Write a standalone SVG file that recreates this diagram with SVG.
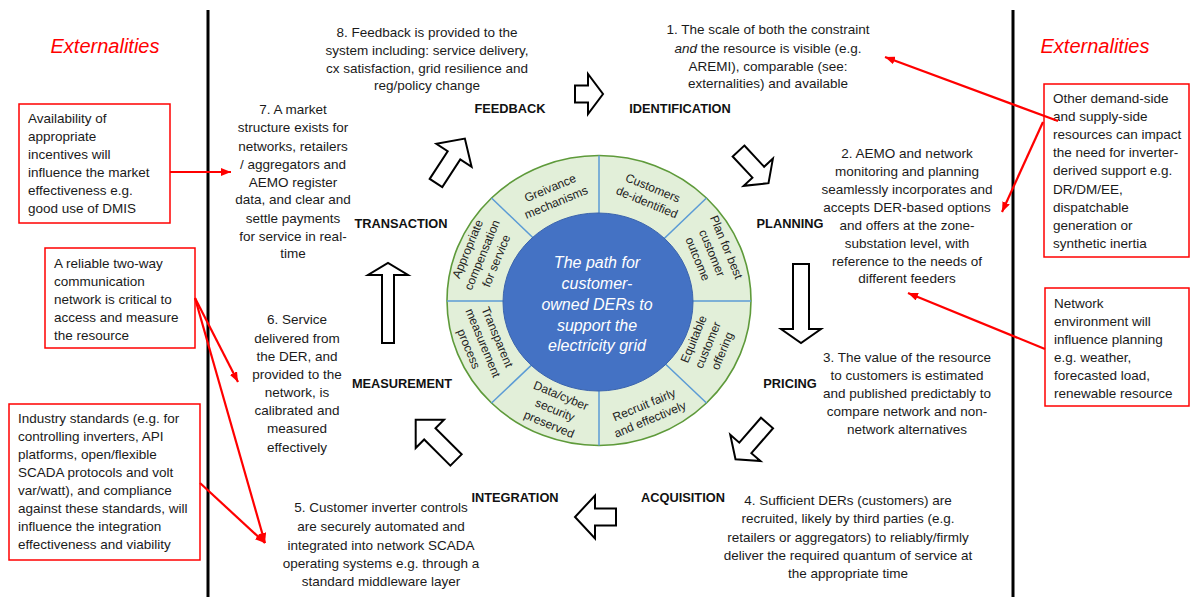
<svg xmlns="http://www.w3.org/2000/svg" width="1190" height="597" viewBox="0 0 1190 597">
<defs>
<style>
.t{font-family:"Liberation Sans",Arial,sans-serif;font-size:13.5px;fill:#1a1a1a}
.c{text-anchor:middle}
.lbl{font-family:"Liberation Sans",Arial,sans-serif;font-size:12.8px;font-weight:bold;fill:#111;text-anchor:middle}
.ext{font-family:"Liberation Sans",Arial,sans-serif;font-size:20px;font-style:italic;fill:#FF0000;text-anchor:middle}
.box{fill:#fff;stroke:#FF0000;stroke-width:1.5}
.red{stroke:#FF0000;stroke-width:2.2;fill:none;marker-end:url(#rh)}
.blk{fill:#fff;stroke:#000;stroke-width:2;stroke-linejoin:miter}
.seg{font-family:"Liberation Sans",Arial,sans-serif;font-size:12px;fill:#222;text-anchor:middle}
.div{stroke:#5B9BD5;stroke-width:1.5}
.core{font-family:"Liberation Sans",Arial,sans-serif;font-size:16px;font-style:italic;fill:#fff;text-anchor:middle}
</style>
<marker id="rh" viewBox="0 0 10 8" refX="10" refY="4" markerWidth="10" markerHeight="8" markerUnits="userSpaceOnUse" orient="auto">
<path d="M0,0 L10,4 L0,8 z" fill="#FF0000"/>
</marker>
</defs>
<rect width="1190" height="597" fill="#fff"/>

<g id="dividers">
<line x1="208" y1="10" x2="208" y2="597" stroke="#000" stroke-width="3"/>
<line x1="1013" y1="10" x2="1013" y2="597" stroke="#000" stroke-width="3"/>
</g>

<g id="externalities-left"><text class="ext" x="105" y="53">Externalities</text></g>
<g id="externalities-right"><text class="ext" x="1095" y="53">Externalities</text></g>

<g id="box-incentives">
<rect class="box" x="19" y="104" width="151" height="119"/>
<text class="t" x="28" y="123">Availability of</text>
<text class="t" x="28" y="141">appropriate</text>
<text class="t" x="28" y="159">incentives will</text>
<text class="t" x="28" y="177">influence the market</text>
<text class="t" x="28" y="195">effectiveness e.g.</text>
<text class="t" x="28" y="213">good use of DMIS</text>
</g>

<g id="box-communication">
<rect class="box" x="45" y="248" width="150" height="100"/>
<text class="t" x="54" y="268">A reliable two-way</text>
<text class="t" x="54" y="286">communication</text>
<text class="t" x="54" y="304">network is critical to</text>
<text class="t" x="54" y="322">access and measure</text>
<text class="t" x="54" y="340">the resource</text>
</g>

<g id="box-standards">
<rect class="box" x="9" y="404" width="191" height="156"/>
<text class="t" x="18" y="423">Industry standards (e.g. for</text>
<text class="t" x="18" y="441">controlling inverters, API</text>
<text class="t" x="18" y="459">platforms, open/flexible</text>
<text class="t" x="18" y="477">SCADA protocols and volt</text>
<text class="t" x="18" y="495">var/watt), and compliance</text>
<text class="t" x="18" y="513">against these standards, will</text>
<text class="t" x="18" y="531">influence the integration</text>
<text class="t" x="18" y="549">effectiveness and viability</text>
</g>

<g id="box-resources">
<rect class="box" x="1044" y="84" width="145" height="173"/>
<text class="t" x="1053" y="103">Other demand-side</text>
<text class="t" x="1053" y="121">and supply-side</text>
<text class="t" x="1053" y="139">resources can impact</text>
<text class="t" x="1053" y="157">the need for inverter-</text>
<text class="t" x="1053" y="175">derived support e.g.</text>
<text class="t" x="1053" y="194">DR/DM/EE,</text>
<text class="t" x="1053" y="212">dispatchable</text>
<text class="t" x="1053" y="230">generation or</text>
<text class="t" x="1053" y="248">synthetic inertia</text>
</g>

<g id="box-network-env">
<rect class="box" x="1045" y="288" width="144" height="118"/>
<text class="t" x="1054" y="308">Network</text>
<text class="t" x="1054" y="326">environment will</text>
<text class="t" x="1054" y="344">influence planning</text>
<text class="t" x="1054" y="362">e.g. weather,</text>
<text class="t" x="1054" y="380">forecasted load,</text>
<text class="t" x="1054" y="398">renewable resource</text>
</g>

<g id="wheel">
<ellipse cx="599" cy="300.5" rx="152" ry="145" fill="#E2EFD9" stroke="#5E9A3A" stroke-width="1.6"/>
<line class="div" x1="599" y1="155.5" x2="599" y2="300"/>
<line class="div" x1="599" y1="445.5" x2="599" y2="300"/>
<line class="div" x1="447" y1="301" x2="599" y2="301"/>
<line class="div" x1="751" y1="301" x2="599" y2="301"/>
<line class="div" x1="491.5" y1="198" x2="599" y2="301"/>
<line class="div" x1="706.5" y1="198" x2="599" y2="301"/>
<line class="div" x1="491.5" y1="403" x2="599" y2="301"/>
<line class="div" x1="706.5" y1="403" x2="599" y2="301"/>
<ellipse cx="598" cy="302" rx="95" ry="89" fill="#4472C4" stroke="#3B64AD" stroke-width="1"/>
<text class="core" x="597" y="268">The path for</text>
<text class="core" x="597" y="289">customer-</text>
<text class="core" x="597" y="310">owned DERs to</text>
<text class="core" x="597" y="331">support the</text>
<text class="core" x="597" y="351">electricity grid</text>
<g transform="translate(553,195) rotate(-22.5)"><text class="seg"><tspan x="0" y="-3.5">Greivance</tspan><tspan x="0" y="12">mechanisms</tspan></text></g>
<g transform="translate(650,195) rotate(22.5)"><text class="seg"><tspan x="0" y="-3.5">Customers</tspan><tspan x="0" y="12">de-identified</tspan></text></g>
<g transform="translate(712,253) rotate(67.5)"><text class="seg"><tspan x="0" y="-11.5">Plan for best</tspan><tspan x="0" y="4">customer</tspan><tspan x="0" y="19.5">outcome</tspan></text></g>
<g transform="translate(708,345) rotate(-67.5)"><text class="seg"><tspan x="0" y="-11.5">Equitable</tspan><tspan x="0" y="4">customer</tspan><tspan x="0" y="19.5">offering</tspan></text></g>
<g transform="translate(647,412) rotate(-22.5)"><text class="seg"><tspan x="0" y="-3.5">Recruit fairly</tspan><tspan x="0" y="12">and effectively</tspan></text></g>
<g transform="translate(555,410) rotate(22.5)"><text class="seg"><tspan x="0" y="-11.5">Data/cyber</tspan><tspan x="0" y="4">security</tspan><tspan x="0" y="19.5">preserved</tspan></text></g>
<g transform="translate(483,343) rotate(67.5)"><text class="seg"><tspan x="0" y="-11.5">Transparent</tspan><tspan x="0" y="4">measurement</tspan><tspan x="0" y="19.5">process</tspan></text></g>
<g transform="translate(482,255) rotate(-67.5)"><text class="seg"><tspan x="0" y="-11.5">Appropriate</tspan><tspan x="0" y="4">compensation</tspan><tspan x="0" y="19.5">for service</tspan></text></g>
</g>

<g id="step-1-identification">
<text class="t c" x="768" y="34">1. The scale of both the constraint</text>
<text class="t c" x="768" y="52.5"><tspan font-style="italic">and</tspan> the resource is visible (e.g.</text>
<text class="t c" x="768" y="70.5">AREMI), comparable (see:</text>
<text class="t c" x="768" y="88">externalities) and available</text>
<text class="lbl" x="680" y="113">IDENTIFICATION</text>
</g>

<g id="step-2-planning">
<text class="t c" x="907" y="158">2. AEMO and network</text>
<text class="t c" x="907" y="176">monitoring and planning</text>
<text class="t c" x="907" y="193.5">seamlessly incorporates and</text>
<text class="t c" x="907" y="211.5">accepts DER-based options</text>
<text class="t c" x="907" y="229.5">and offers at the zone-</text>
<text class="t c" x="907" y="247.5">substation level, with</text>
<text class="t c" x="907" y="265.5">reference to the needs of</text>
<text class="t c" x="907" y="283">different feeders</text>
<text class="lbl" x="790" y="228">PLANNING</text>
</g>

<g id="step-3-pricing">
<text class="t c" x="907" y="362">3. The value of the resource</text>
<text class="t c" x="907" y="380">to customers is estimated</text>
<text class="t c" x="907" y="398">and published predictably to</text>
<text class="t c" x="907" y="416">compare network and non-</text>
<text class="t c" x="907" y="434">network alternatives</text>
<text class="lbl" x="790" y="388">PRICING</text>
</g>

<g id="step-4-acquisition">
<text class="t c" x="848" y="505">4. Sufficient DERs (customers) are</text>
<text class="t c" x="848" y="523">recruited, likely by third parties (e.g.</text>
<text class="t c" x="848" y="542">retailers or aggregators) to reliably/firmly</text>
<text class="t c" x="848" y="560">deliver the required quantum of service at</text>
<text class="t c" x="848" y="578">the appropriate time</text>
<text class="lbl" x="683" y="502">ACQUISITION</text>
</g>

<g id="step-5-integration">
<text class="t c" x="381" y="512">5. Customer inverter controls</text>
<text class="t c" x="381" y="531">are securely automated and</text>
<text class="t c" x="381" y="550">integrated into network SCADA</text>
<text class="t c" x="381" y="568">operating systems e.g. through a</text>
<text class="t c" x="381" y="586">standard middleware layer</text>
<text class="lbl" x="515" y="502">INTEGRATION</text>
</g>

<g id="step-6-measurement">
<text class="t c" x="297" y="324">6. Service</text>
<text class="t c" x="297" y="342.5">delivered from</text>
<text class="t c" x="297" y="360.5">the DER, and</text>
<text class="t c" x="297" y="378.5">provided to the</text>
<text class="t c" x="297" y="397">network, is</text>
<text class="t c" x="297" y="415">calibrated and</text>
<text class="t c" x="297" y="433">measured</text>
<text class="t c" x="297" y="451.5">effectively</text>
<text class="lbl" x="402" y="388">MEASUREMENT</text>
</g>

<g id="step-7-transaction">
<text class="t c" x="293" y="114">7. A market</text>
<text class="t c" x="293" y="132">structure exists for</text>
<text class="t c" x="293" y="150.5">networks, retailers</text>
<text class="t c" x="293" y="168.5">/ aggregators and</text>
<text class="t c" x="293" y="186.5">AEMO register</text>
<text class="t c" x="293" y="204">data, and clear and</text>
<text class="t c" x="293" y="222.5">settle payments</text>
<text class="t c" x="293" y="240.5">for service in real-</text>
<text class="t c" x="293" y="258">time</text>
<text class="lbl" x="401" y="228">TRANSACTION</text>
</g>

<g id="step-8-feedback">
<text class="t c" x="427" y="37">8. Feedback is provided to the</text>
<text class="t c" x="427" y="55">system including: service delivery,</text>
<text class="t c" x="427" y="72.5">cx satisfaction, grid resilience and</text>
<text class="t c" x="427" y="90">reg/policy change</text>
<text class="lbl" x="510" y="113">FEEDBACK</text>
</g>

<g id="connectors">
<polygon class="blk" transform="translate(575,94) rotate(0)" points="0,-8.5 13,-8.5 13,-20 28,0 13,20 13,8.5 0,8.5"/>
<polygon class="blk" transform="translate(738.5,151) rotate(47)" points="0,-8 29,-8 29,-20 44,0 29,20 29,8 0,8"/>
<polygon class="blk" transform="translate(801,264) rotate(90)" points="0,-8 65,-8 65,-20 79,0 65,20 65,8 0,8"/>
<polygon class="blk" transform="translate(767,423) rotate(131)" points="0,-8 33,-8 33,-20 48,0 33,20 33,8 0,8"/>
<polygon class="blk" transform="translate(616,517) rotate(180)" points="0,-8.5 21,-8.5 21,-21.5 41,0 21,21.5 21,8.5 0,8.5"/>
<polygon class="blk" transform="translate(456,460) rotate(-135)" points="0,-8 37,-8 37,-20 57,0 37,20 37,8 0,8"/>
<polygon class="blk" transform="translate(388,343) rotate(-90)" points="0,-6 68,-6 68,-20 80,0 68,20 68,6 0,6"/>
<polygon class="blk" transform="translate(436,183) rotate(-57)" points="0,-7.5 33,-7.5 33,-21 53,0 33,21 33,7.5 0,7.5"/>
<line class="red" x1="170" y1="172" x2="231" y2="172"/>
<line class="red" x1="195" y1="298" x2="238" y2="382"/>
<line class="red" x1="195" y1="298" x2="265" y2="543"/>
<line class="red" x1="200" y1="483" x2="265" y2="543"/>
<line class="red" x1="1058" y1="121" x2="885" y2="57"/>
<line class="red" x1="1043" y1="122" x2="1002" y2="212"/>
<line class="red" x1="1045" y1="349" x2="908" y2="293"/>
</g>
</svg>
